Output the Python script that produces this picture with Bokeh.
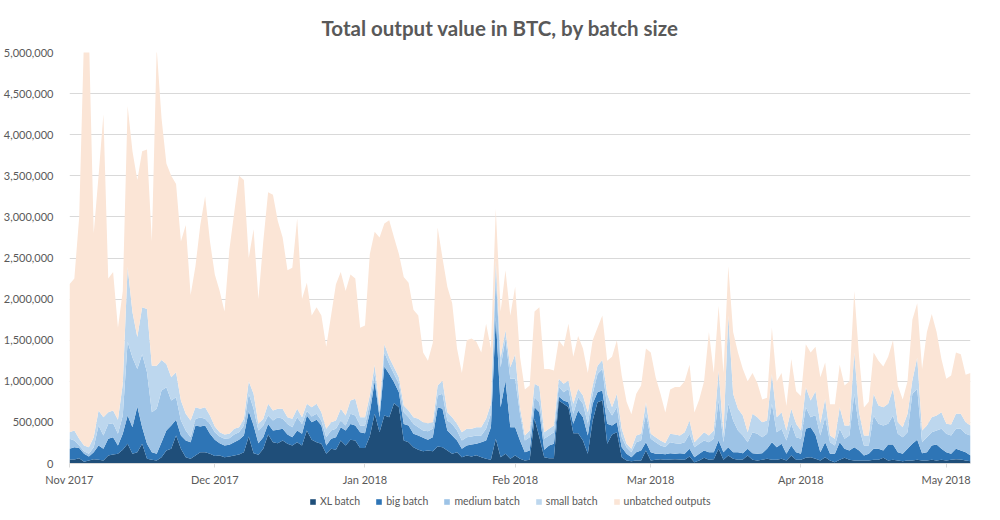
import pandas as pd
from bokeh.plotting import figure
from bokeh.layouts import column
from bokeh.models import (ColumnDataSource, Range1d, FixedTicker, NumeralTickFormatter,
                          DatetimeTickFormatter, Legend, LegendItem)
from bokeh.embed import file_html
from bokeh.resources import INLINE

# daily values, thousands of BTC, 1 Nov 2017 .. 6 May 2018
xl_batch_k = [49,49,65,20,36,53,45,36,97,110, 118,166,240,118,138,240,57,45,36,77,
    158,178,340,178,77,57,97,138,138,118, 90,97,77,85,97,110,138,328,126,105,
    178,353,260,247,280,240,219,260,219,401, 288,260,240,118,178,166,280,219,288,280,
    190,190,330,604,381,584,564,734,685,280, 260,199,166,150,158,150,207,199,158,118,
    138,77,97,85,101,77,57,45,300,77, 118,57,97,57,36,45,543,320,77,65,
    65,766,726,685,369,369,280,118,523,746, 766,240,353,381,77,36,28,36,36,158,
    36,45,53,45,49,53,49,45,85,16, 36,69,45,53,178,45,97,57,45,49,
    97,45,36,45,57,45,45,57,36,97, 45,45,69,77,57,36,77,36,16,45,
    69,45,36,36,36,36,45,45,69,36, 45,36,28,36,36,45,36,36,45,36,
    45,36,45,53,49,36,28]
big_batch_k = [129,150,125,98,49,85,174,142,203,210, 101,195,344,324,555,202,183,93,82,183,
    242,284,191,162,203,203,365,312,324,243, 200,150,142,142,163,178,202,309,336,142,
    142,129,141,163,142,113,101,141,142,183, 215,271,222,101,122,154,162,182,194,182,
    191,179,290,396,183,596,526,255,183,202, 202,162,174,162,130,170,478,466,243,222,
    142,101,122,146,139,183,223,397,1480,608, 892,385,345,223,102,113,142,304,89,154,
    175,49,40,61,114,276,284,222,203,122, 122,243,109,122,122,82,49,102,122,102,
    102,73,65,69,77,65,77,73,93,61, 82,89,93,85,102,93,102,81,93,77,
    81,81,82,81,121,215,154,183,82,122, 93,73,353,365,293,102,183,82,102,215,
    109,113,163,122,61,82,133,133,89,195, 186,102,90,142,204,243,90,102,174,195,
    133,102,73,125,109,102,69]
medium_batch_k = [122,81,29,32,33,61,243,162,182,170, 142,223,896,848,457,888,870,486,547,628,
    529,304,276,183,120,60,78,110,83,121, 90,81,81,81,93,93,122,211,203,154,
    142,102,122,154,121,129,122,163,121,56, 69,73,61,101,101,102,81,61,122,122,
    81,93,120,90,60,170,120,101,101,142, 102,121,102,89,105,102,142,183,122,142,
    121,102,101,97,100,80,142,162,520,485, 510,588,588,324,142,162,122,122,134,121,
    141,122,102,162,121,162,162,143,122,222, 262,202,122,182,121,81,61,122,122,344,
    162,142,101,86,134,129,114,142,183,122, 122,122,122,162,486,122,527,385,263,214,
    82,255,243,194,183,466,182,182,162,264, 182,182,263,122,240,202,304,142,101,162,
    122,182,649,284,122,101,406,305,304,252, 353,223,202,203,608,620,134,182,162,170,
    244,223,222,244,264,223,243]
small_batch_k = [81,120,81,69,81,121,183,224,142,155, 170,385,910,550,390,570,770,566,525,372,
    281,284,303,243,204,203,145,105,140,102, 70,53,53,53,69,61,81,152,183,82,
    81,142,122,101,122,82,101,101,82,86, 113,122,101,102,102,101,142,122,162,203,
    102,102,90,110,61,100,80,80,81,82, 81,82,101,102,97,81,122,162,101,82,
    82,101,102,94,102,102,121,122,170,120, 100,140,300,81,60,81,162,191,81,82,
    81,93,101,102,122,101,101,141,101,100, 110,163,101,163,102,40,40,80,81,142,
    61,60,61,50,101,106,100,121,162,61, 80,101,80,101,364,101,1074,325,264,244,
    121,223,203,183,162,364,183,202,121,182, 163,101,244,202,290,143,223,80,81,263,
    162,122,502,182,121,121,264,223,223,243, 324,142,122,223,162,382,141,142,183,183,
    202,122,135,182,182,142,122]
unbatched_k = [1799,1850,2700,4981,5051,2480,2855,3686,1626,1685, 1119,1131,1960,1960,1910,1900,1940,1510,3860,2940,
    2440,2450,2290,1934,2296,1527,1715,2235,2565,2116, 1850,1719,1497,2239,2628,3058,2907,1500,2002,1517,
    2157,2574,2625,2285,2085,1786,1837,2315,1436,1474, 1115,1174,1176,998,1297,1657,1665,1516,1534,1463,
    1086,1116,1720,1620,2065,1470,1670,1580,1500,1564, 1555,1306,1257,847,760,967,1921,1490,1526,1386,
    917,719,1078,1098,1038,908,1157,674,630,560, 730,630,820,615,560,549,881,963,769,728,
    668,470,451,690,574,642,573,476,551,460, 540,402,615,652,648,511,422,510,589,654,
    989,730,570,370,539,577,590,619,677,360, 460,619,1260,699,790,739,600,752,685,566,
    619,496,416,277,277,560,436,476,299,605, 397,419,521,584,540,567,443,380,420,515,
    488,538,750,676,340,410,502,544,495,574, 592,447,338,396,740,660,749,1138,1256,1016,
    646,547,595,746,726,577,638]

series_names = ["XL batch", "big batch", "medium batch", "small batch", "unbatched outputs"]
series_colors = ["#1f4e79", "#2e75b6", "#9dc3e6", "#bdd7ee", "#fbe5d6"]
month_ticks = ["2017-11-01", "2017-12-01", "2018-01-01", "2018-02-01",
               "2018-03-01", "2018-04-01", "2018-05-01"]

dates = pd.date_range("2017-11-01", periods=len(xl_batch_k), freq="D")
keys = ["xl", "big", "medium", "small", "unbatched"]
data = {"date": dates}
for k, arr in zip(keys, [xl_batch_k, big_batch_k, medium_batch_k, small_batch_k, unbatched_k]):
    data[k] = [v * 1000 for v in arr]
source = ColumnDataSource(data)

FONT = "Lato"
GREY = "#595959"

p = figure(frame_width=901, frame_height=411, x_axis_type="datetime",
           output_backend="svg", toolbar_location=None,
           min_border_left=64, min_border_right=19, min_border_top=52, min_border_bottom=30,
           x_range=Range1d(dates[0], dates[-1]), y_range=Range1d(0, 5000000))

p.varea_stack(stackers=keys, x="date", color=series_colors, source=source)

p.title.text = "Total output value in BTC, by batch size"
p.title.align = "left"
p.title.offset = 252
p.title.text_font = FONT
p.title.text_font_size = "20.5px"
p.title.text_font_style = "bold"
p.title.text_color = GREY
p.title.standoff = 26

p.outline_line_color = None
p.xgrid.grid_line_color = None
p.ygrid.grid_line_color = "#d9d9d9"
p.ygrid.ticker = FixedTicker(ticks=list(range(0, 5000001, 500000)))

p.yaxis.ticker = FixedTicker(ticks=list(range(0, 5000001, 500000)))
p.yaxis.formatter = NumeralTickFormatter(format="0,0")
p.yaxis.axis_line_color = None
p.yaxis.major_tick_line_color = None
p.yaxis.minor_tick_line_color = None
p.yaxis.major_label_text_font = FONT
p.yaxis.major_label_text_font_size = "11px"
p.yaxis.major_label_text_color = GREY
p.yaxis.major_label_standoff = 10

tick_ms = [pd.Timestamp(t).value // 10**6 for t in month_ticks]
p.xaxis.ticker = FixedTicker(ticks=tick_ms)
p.xaxis.formatter = DatetimeTickFormatter(months="%b %Y", days="%b %Y", years="%b %Y")
p.xaxis.axis_line_color = "#d9d9d9"
p.xaxis.major_tick_line_color = "#d9d9d9"
p.xaxis.major_tick_out = 4
p.xaxis.major_tick_in = 0
p.xaxis.minor_tick_line_color = None
p.xaxis.major_label_text_font = FONT
p.xaxis.major_label_text_font_size = "11px"
p.xaxis.major_label_text_color = GREY
p.xaxis.major_label_standoff = 5

# legend strip: same stacked series, drawn out of view, only its legend shows
lf = figure(width=984, height=16, output_backend="svg", toolbar_location=None,
            min_border=0, x_axis_location=None, y_axis_location=None,
            x_range=Range1d(dates[0], dates[-1]), y_range=Range1d(-2, -1))
lf.outline_line_color = None
lf.xgrid.grid_line_color = None
lf.ygrid.grid_line_color = None
lrends = lf.varea_stack(stackers=keys, x="date", color=series_colors, source=source)
legend = Legend(items=[LegendItem(label=n, renderers=[r]) for n, r in zip(series_names, lrends)],
                orientation="horizontal", location=(240, 2))
legend.label_text_font = FONT
legend.label_text_font_size = "10.5px"
legend.label_text_color = GREY
legend.glyph_width = 7
legend.glyph_height = 7
legend.label_height = 12
legend.label_standoff = 4
legend.spacing = 15
legend.padding = 0
legend.margin = 0
legend.border_line_color = None
legend.background_fill_alpha = 0
lf.add_layout(legend, "center")

open("out.html", "w").write(file_html(column(p, lf), INLINE))
